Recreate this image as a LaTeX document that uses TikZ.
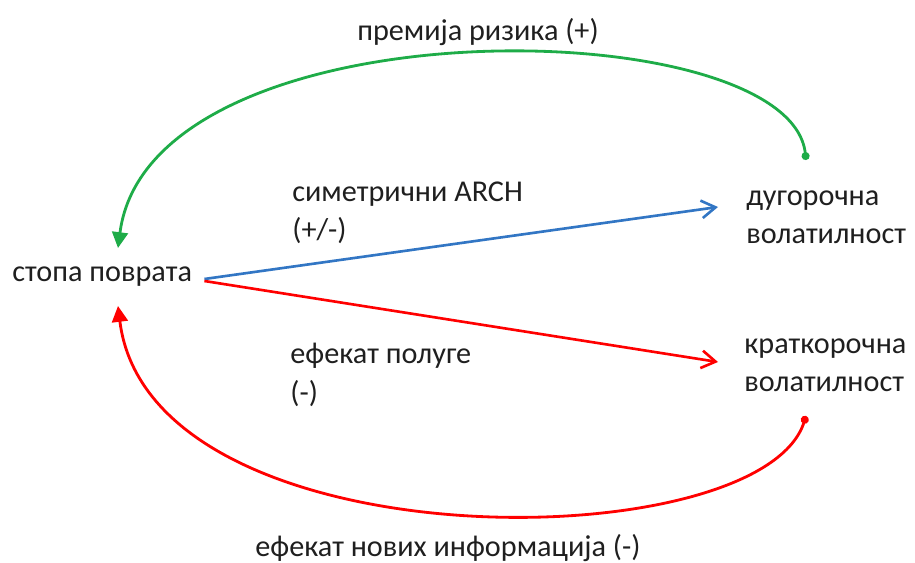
\documentclass[tikz,border=0pt]{standalone}
\usepackage{fontspec}
\setmainfont{Carlito}
\usetikzlibrary{arrows.meta,calc}
\definecolor{arcgreen}{RGB}{30,172,72}
\definecolor{archblue}{RGB}{50,118,196}
\definecolor{levred}{RGB}{255,0,0}
\begin{document}
\begin{tikzpicture}[x=0.02cm, y=-0.02cm,
  lbl/.style={font=\fontsize{17.2}{21.8}\selectfont, text=black!88, align=left, inner sep=0pt, anchor=west},
  loop/.style={line width=1.6pt, {Circle[length=4.5pt]}-{Triangle[length=9pt,width=9pt]}},
  link/.style={line width=1.5pt, -{Straight Barb[length=8pt,width=10pt]}}]
  \useasboundingbox (0,0) rectangle (915,563);
  % variables
  \node[lbl] (stopa) at (12,277) {стопа поврата};
  \node[lbl] (dugo) at (746,217) {дугорочна\\волатилност};
  \node[lbl] (kratko) at (744,365) {краткорочна\\волатилност};
  % effects
  \node[lbl] (arch) at (292,213) {симетрични ARCH\\(+/-)};
  \node[lbl] (poluga) at (290,375) {ефекат полуге\\(-)};
  \node[lbl, anchor=center] (premija) at (478,32) {премија ризика (+)};
  \node[lbl] (novih) at (255,548) {ефекат нових информација (-)};
  % connectors
  \draw[link, archblue] ($(stopa.east)+(12,2)$) -- ($(dugo.west)+(-28,-10)$);
  \draw[link, levred] ($(stopa.east)+(12,4)$) -- ($(kratko.west)+(-26,-3)$);
  \draw[loop, arcgreen] ($(dugo.west)+(60,-57)$) .. controls (790,10) and (150,0) .. ($(stopa.west)+(106,-29)$);
  \draw[loop, levred] ($(kratko.west)+(62,51)$) .. controls (760,560) and (150,566) .. ($(stopa.west)+(106,29)$);
\end{tikzpicture}
\end{document}
